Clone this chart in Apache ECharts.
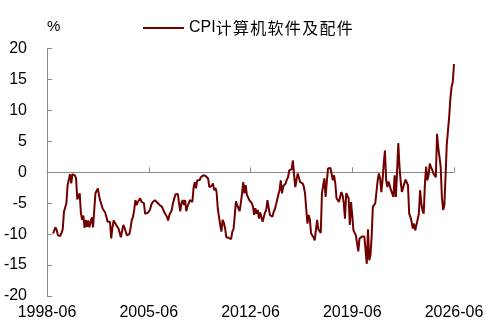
<!DOCTYPE html>
<html><head><meta charset="utf-8">
<script src="https://cdn.jsdelivr.net/npm/echarts@6/dist/echarts.min.js"></script>
<style>html,body{margin:0;padding:0;background:#fff}#c{width:487px;height:329px}</style>
</head><body><div id="c"></div>
<script>
const seriesName = 'CPI计算机软件及配件';
const axisStart = [1998, 6];
const axisEnd = [2026, 6];
const dataStart = '1998-11';
const tickLabels = ['1998-06', '2005-06', '2012-06', '2019-06', '2026-06'];
const yMin = -20, yMax = 20, yStep = 5;

// monthly values (%)
const v1998 = [-9.9, -9.4];
const v1999 = [-8.9, -9.3, -10.2, -10.4, -10.3, -9.8, -9.2, -6.4, -6.2, -5.0, -2.1, -1.8];
const v2000 = [-0.3, -1.8, -0.3, -0.3, -0.5, -1.0, -4.4, -4.4, -3.4, -6.6, -7.7, -7.0];
const v2001 = [-9.0, -7.7, -8.8, -7.8, -8.9, -8.0, -7.3, -8.9, -6.1, -3.4, -3.0, -2.6];
const v2002 = [-3.8, -4.6, -4.3, -5.9, -5.6, -6.5, -7.2, -8.0, -7.8, -8.0, -10.7, -9.0];
const v2003 = [-7.8, -8.0, -8.5, -8.2, -9.1, -9.8, -10.5, -9.5, -8.5, -9.0, -9.3, -10.2];
const v2004 = [-10.5, -10.0, -9.0, -7.7, -7.2, -6.1, -4.5, -5.3, -4.8, -4.5, -4.2, -4.8];
const v2005 = [-4.9, -5.0, -6.7, -6.9, -6.6, -6.5, -6.1, -5.3, -4.9, -4.8, -4.5, -4.7];
const v2006 = [-4.9, -5.0, -5.3, -5.4, -5.6, -6.1, -6.5, -6.7, -7.2, -7.8, -6.9, -6.5];
const v2007 = [-6.1, -5.0, -4.3, -3.6, -3.4, -3.5, -5.0, -6.3, -5.0, -4.5, -5.3, -4.5];
const v2008 = [-6.3, -5.5, -5.3, -4.5, -4.6, -4.8, -2.5, -1.6, -2.6, -1.3, -1.5, -1.3];
const v2009 = [-0.8, -0.6, -0.5, -0.5, -0.6, -0.9, -1.0, -2.4, -2.6, -2.2, -1.8, -2.9];
const v2010 = [-2.5, -3.2, -5.9, -7.2, -8.5, -9.6, -7.7, -8.2, -9.0, -10.5, -10.3, -10.6];
const v2011 = [-10.8, -10.8, -9.6, -9.2, -7.0, -4.7, -5.3, -5.3, -6.3, -5.0, -3.5, -1.6];
const v2012 = [-3.4, -2.1, -3.6, -3.4, -4.5, -4.6, -5.0, -5.5, -6.9, -5.8, -6.7, -6.1];
const v2013 = [-7.5, -6.5, -6.8, -8.0, -7.2, -6.5, -6.1, -4.5, -4.7, -6.9, -7.0, -7.2];
const v2014 = [-6.5, -6.0, -5.3, -4.5, -3.6, -2.9, -1.3, -3.4, -2.3, -2.0, -1.8, -1.2];
const v2015 = [-0.8, 0.3, 0.0, 0.5, 1.9, -0.5, -2.4, -1.2, -0.2, 0.0, -1.6, -1.3];
const v2016 = [-1.8, -2.3, -3.4, -5.9, -8.3, -6.9, -7.6, -9.9, -9.6, -10.5, -11.0, -10.8];
const v2017 = [-7.7, -9.2, -9.4, -9.8, -3.4, -2.1, -1.0, -4.0, -1.5, 0.6, 0.9, 0.7];
const v2018 = [0.6, -1.3, -0.5, -1.8, -4.2, -4.5, -4.8, -4.0, -3.2, -3.7, -5.0, -7.5];
const v2019 = [-3.4, -3.4, -4.2, -8.5, -4.8, -7.0, -9.4, -9.6, -10.2, -11.5, -12.8, -10.7];
const v2020 = [-10.4, -10.4, -10.4, -10.4, -10.7, -14.8, -9.2, -14.2, -13.5, -10.4, -5.6, -5.3];
const v2021 = [-5.0, -4.8, -1.3, -0.2, -1.0, -3.2, -1.3, 1.4, 3.5, -1.3, -2.4, -1.5];
const v2022 = [-1.3, -2.9, -3.2, -4.0, -0.5, -4.0, 0.0, 4.7, 0.9, -1.5, -3.2, -2.5];
const v2023 = [-1.8, -1.2, -1.0, -2.1, -6.7, -7.2, -8.0, -9.1, -8.3, -9.4, -8.5, -8.3];
const v2024 = [-6.7, -2.9, -5.0, -6.2, -6.7, -1.8, 0.9, -1.3, -0.5, 1.4, 0.8, 0.4];
const v2025 = [-0.2, -0.5, -0.8, 6.2, 4.0, 2.5, 0.9, -4.0, -6.1, -5.4, -0.8, 4.4];
const v2026 = [4.7, 8.9, 11.9, 13.8, 14.6, 17.5];

const values = [].concat(v1998, v1999, v2000, v2001, v2002, v2003, v2004, v2005, v2006,
  v2007, v2008, v2009, v2010, v2011, v2012, v2013, v2014, v2015, v2016, v2017, v2018,
  v2019, v2020, v2021, v2022, v2023, v2024, v2025, v2026);

// month categories for the axis
const months = [];
for (let y = axisStart[0], m = axisStart[1]; y < axisEnd[0] || (y === axisEnd[0] && m <= axisEnd[1]); ) {
  months.push(y + '-' + String(m).padStart(2, '0'));
  m++; if (m > 12) { m = 1; y++; }
}
const offset = months.indexOf(dataStart);
const seriesData = months.map((c, i) => (i < offset || i - offset >= values.length) ? null : values[i - offset]);

const axisGray = '#8a8a8a';
const txtFont = "'Liberation Sans', Arial, sans-serif";
const isTick = (i, v) => tickLabels.indexOf(v) >= 0;

const chart = echarts.init(document.getElementById('c'), null, { renderer: 'canvas' });
chart.setOption({
  animation: false,
  backgroundColor: '#ffffff',
  grid: { left: 47, right: 33, top: 48.5, bottom: 33, containLabel: false },
  legend: {
    show: true, left: 143, top: 20, padding: 0,
    icon: 'rect', itemWidth: 41, itemHeight: 2, itemGap: 10,
    data: [seriesName],
    formatter: name => '{a|' + name.slice(0, 3) + '}' + Array.from(name.slice(3)).map(ch => '{b|' + ch + '}').join(''),
    textStyle: {
      fontSize: 16, color: '#000', fontFamily: txtFont,
      rich: {
        a: { fontSize: 16, color: '#000', fontFamily: txtFont },
        b: { fontSize: 16, color: '#000', fontFamily: "'Noto Sans CJK SC', sans-serif", width: 17.3, align: 'left' }
      }
    }
  },
  xAxis: [
    {
      type: 'category', data: months, boundaryGap: false, position: 'bottom',
      axisLine: { show: true, onZero: true, lineStyle: { color: axisGray, width: 1 } },
      axisTick: { show: true, inside: true, length: 5, interval: isTick, lineStyle: { color: axisGray } },
      axisLabel: { show: false },
      splitLine: { show: false }
    },
    {
      type: 'category', data: months, boundaryGap: false, position: 'bottom',
      axisLine: { show: false, onZero: false },
      axisTick: { show: false },
      axisLabel: { show: true, interval: isTick, margin: 9, color: '#000', fontSize: 16, fontFamily: txtFont },
      splitLine: { show: false }
    }
  ],
  yAxis: {
    type: 'value', min: yMin, max: yMax, interval: yStep,
    name: '%', nameLocation: 'end', nameGap: 21.5,
    nameTextStyle: { align: 'left', verticalAlign: 'middle', color: '#000', fontSize: 15, fontFamily: txtFont },
    axisLine: { show: true, lineStyle: { color: axisGray, width: 1 } },
    axisTick: { show: true, inside: true, length: 5, lineStyle: { color: axisGray } },
    axisLabel: { margin: 20, color: '#000', fontSize: 16, fontFamily: txtFont },
    splitLine: { show: false }
  },
  series: [{
    name: seriesName, type: 'line', xAxisIndex: 0, yAxisIndex: 0,
    data: seriesData, symbol: 'none', showSymbol: false,
    lineStyle: { color: '#700000', width: 2 },
    itemStyle: { color: '#700000' }
  }]
});
</script>
</body></html>
